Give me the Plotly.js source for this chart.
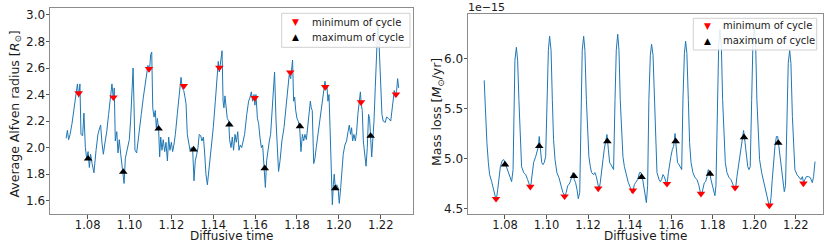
<!DOCTYPE html>
<html>
<head>
<meta charset="utf-8">
<script src="https://cdn.plot.ly/plotly-3.0.1.min.js"></script>
<style>html,body{margin:0;padding:0;background:#fff;}#chart{width:830px;height:244px;}</style>
</head>
<body>
<div id="chart"></div>
<script>
// ---- Left panel: average Alfven radius ----
const timeA = [1.0697,1.0703,1.0709,1.0716,1.0725,1.0735,1.0744,1.0751,1.0757,1.0763,1.0768,1.0776,1.0782,1.0789,1.0795,1.0802,1.0808,1.0814,1.0821,1.0830,1.0840,1.0849,1.0856,1.0862,1.0868,1.0875,1.0881,1.0891,1.0900,1.0910,1.0916,1.0923,1.0927,1.0932,1.0939,1.0945,1.0951,1.0958,1.0964,1.0970,1.0974,1.0980,1.0986,1.0993,1.0999,1.1005,1.1012,1.1017,1.1021,1.1026,1.1034,1.1040,1.1047,1.1056,1.1066,1.1075,1.1082,1.1088,1.1095,1.1101,1.1106,1.1111,1.1117,1.1123,1.1128,1.1133,1.1139,1.1144,1.1149,1.1155,1.1161,1.1168,1.1174,1.1181,1.1187,1.1193,1.1200,1.1206,1.1212,1.1219,1.1228,1.1238,1.1246,1.1252,1.1259,1.1265,1.1270,1.1276,1.1283,1.1289,1.1295,1.1302,1.1308,1.1314,1.1321,1.1327,1.1333,1.1340,1.1346,1.1353,1.1359,1.1365,1.1372,1.1381,1.1391,1.1400,1.1410,1.1418,1.1424,1.1429,1.1435,1.1442,1.1447,1.1451,1.1456,1.1461,1.1467,1.1474,1.1478,1.1485,1.1491,1.1497,1.1504,1.1510,1.1517,1.1523,1.1529,1.1536,1.1542,1.1550,1.1560,1.1569,1.1576,1.1582,1.1588,1.1595,1.1599,1.1604,1.1611,1.1617,1.1623,1.1630,1.1636,1.1642,1.1649,1.1655,1.1661,1.1668,1.1674,1.1681,1.1687,1.1693,1.1700,1.1706,1.1712,1.1719,1.1728,1.1738,1.1747,1.1757,1.1763,1.1770,1.1775,1.1779,1.1784,1.1789,1.1794,1.1800,1.1806,1.1813,1.1819,1.1826,1.1832,1.1838,1.1845,1.1851,1.1857,1.1864,1.1868,1.1873,1.1880,1.1886,1.1892,1.1900,1.1910,1.1919,1.1927,1.1934,1.1939,1.1943,1.1948,1.1953,1.1958,1.1964,1.1969,1.1974,1.1978,1.1983,1.1990,1.1996,1.2002,1.2009,1.2015,1.2021,1.2029,1.2037,1.2044,1.2050,1.2056,1.2061,1.2066,1.2072,1.2079,1.2085,1.2091,1.2098,1.2103,1.2107,1.2112,1.2117,1.2123,1.2130,1.2136,1.2142,1.2147,1.2152,1.2157,1.2162,1.2168,1.2174,1.2181,1.2187,1.2193,1.2200,1.2206,1.2212,1.2222,1.2228,1.2238,1.2248,1.2254,1.2260,1.2265,1.2270,1.2276,1.2281,1.2286];
const alfvenRadius = [2.07,2.13,2.06,2.10,2.18,2.30,2.38,2.48,2.38,2.48,2.10,2.09,2.26,2.00,1.92,1.97,1.85,1.95,1.88,1.81,1.98,2.10,2.14,2.17,2.04,1.95,2.02,2.12,2.25,2.42,2.48,2.36,2.45,2.05,2.12,1.96,2.06,1.95,1.86,1.78,1.73,1.92,1.97,2.02,2.06,2.20,2.45,2.60,2.35,1.98,1.96,2.03,2.12,2.25,2.38,2.48,2.55,2.62,2.57,2.70,2.72,2.30,2.23,2.28,2.15,2.22,2.14,1.93,2.08,1.98,2.06,1.97,2.04,1.90,2.08,1.98,2.04,1.97,2.02,2.10,2.25,2.42,2.53,2.45,2.43,2.38,2.33,2.10,2.04,1.98,2.00,1.97,1.75,1.90,1.95,2.00,2.10,2.09,2.05,2.08,1.96,1.80,1.72,1.85,2.00,2.15,2.35,2.55,2.65,2.57,2.65,2.73,2.35,2.30,2.39,2.28,2.22,2.20,2.06,2.00,2.08,1.98,2.10,2.04,2.12,1.98,2.02,2.00,2.04,2.10,2.25,2.35,2.38,2.42,2.35,2.40,2.32,2.40,2.22,2.18,2.08,2.00,2.02,1.85,1.70,1.90,1.98,2.05,2.10,2.25,2.45,2.57,2.20,1.95,1.82,1.90,2.05,2.15,2.30,2.42,2.55,2.52,2.60,2.66,2.35,2.38,2.28,2.22,2.20,2.15,1.97,2.10,2.05,2.10,2.06,2.15,2.25,2.35,2.30,2.28,1.88,1.92,2.00,2.10,2.22,2.32,2.45,2.50,2.44,2.47,2.35,2.40,2.15,1.80,1.57,1.72,1.80,1.70,1.72,1.70,1.58,1.70,1.85,1.95,2.02,2.05,2.12,2.17,2.10,2.15,2.05,2.10,2.05,2.12,2.25,2.38,2.42,2.33,2.28,2.05,1.95,1.86,2.00,2.25,2.22,2.10,1.93,2.05,2.20,2.45,2.75,2.96,2.75,2.40,2.25,2.20,2.19,2.23,2.22,2.20,2.28,2.35,2.43,2.38,2.43,2.52,2.45];
const minTimeA = [1.0757,1.0923,1.1093,1.1259,1.1429,1.1598,1.1768,1.1935,1.2106,1.2273];
const minRadius = [2.410,2.379,2.593,2.465,2.603,2.374,2.568,2.457,2.342,2.402];
const maxTimeA = [1.0802,1.0970,1.1139,1.1306,1.1477,1.1646,1.1814,1.1983,1.2152];
const maxRadius = [1.917,1.817,2.143,1.985,2.173,1.844,2.161,1.693,2.088];

// ---- Right panel: mass loss (units of 1e-15 Msun/yr) ----
const timeB = [1.0700,1.0707,1.0713,1.0720,1.0726,1.0736,1.0745,1.0752,1.0758,1.0765,1.0771,1.0778,1.0787,1.0794,1.0800,1.0806,1.0813,1.0819,1.0826,1.0832,1.0839,1.0843,1.0848,1.0855,1.0861,1.0867,1.0874,1.0880,1.0890,1.0900,1.0909,1.0919,1.0925,1.0932,1.0938,1.0948,1.0954,1.0961,1.0965,1.0970,1.0977,1.0983,1.0989,1.0996,1.1002,1.1009,1.1015,1.1022,1.1028,1.1034,1.1041,1.1050,1.1060,1.1070,1.1079,1.1089,1.1095,1.1102,1.1108,1.1115,1.1121,1.1127,1.1134,1.1140,1.1147,1.1153,1.1160,1.1166,1.1172,1.1179,1.1185,1.1192,1.1198,1.1204,1.1211,1.1217,1.1227,1.1233,1.1240,1.1246,1.1253,1.1259,1.1265,1.1272,1.1278,1.1285,1.1291,1.1298,1.1304,1.1310,1.1317,1.1323,1.1330,1.1336,1.1343,1.1349,1.1355,1.1362,1.1368,1.1375,1.1381,1.1387,1.1394,1.1404,1.1410,1.1416,1.1423,1.1429,1.1439,1.1448,1.1455,1.1461,1.1468,1.1474,1.1481,1.1487,1.1493,1.1500,1.1506,1.1513,1.1519,1.1526,1.1532,1.1542,1.1548,1.1554,1.1561,1.1567,1.1574,1.1580,1.1587,1.1593,1.1599,1.1606,1.1612,1.1619,1.1625,1.1631,1.1638,1.1644,1.1651,1.1657,1.1664,1.1670,1.1676,1.1683,1.1689,1.1696,1.1705,1.1715,1.1725,1.1734,1.1741,1.1747,1.1753,1.1760,1.1766,1.1773,1.1779,1.1786,1.1792,1.1798,1.1805,1.1811,1.1816,1.1822,1.1829,1.1835,1.1842,1.1848,1.1855,1.1861,1.1869,1.1879,1.1888,1.1898,1.1904,1.1911,1.1917,1.1924,1.1930,1.1936,1.1943,1.1949,1.1956,1.1962,1.1969,1.1975,1.1981,1.1988,1.1994,1.2001,1.2007,1.2013,1.2020,1.2026,1.2036,1.2046,1.2055,1.2065,1.2071,1.2076,1.2081,1.2087,1.2094,1.2100,1.2107,1.2113,1.2119,1.2126,1.2132,1.2139,1.2145,1.2151,1.2158,1.2164,1.2171,1.2177,1.2184,1.2190,1.2196,1.2206,1.2216,1.2225,1.2232,1.2238,1.2244,1.2251,1.2261,1.2270,1.2280,1.2286,1.2293];
const massLoss = [5.78,5.42,5.16,4.96,4.84,4.77,4.69,4.63,4.58,4.69,4.82,4.92,4.98,4.99,4.96,4.92,4.89,4.84,4.79,4.77,4.89,5.59,5.98,6.11,5.98,5.59,5.16,4.92,4.86,4.84,4.79,4.73,4.74,4.86,4.96,5.02,5.06,5.12,5.22,5.09,4.96,4.94,4.96,5.02,5.59,6.08,6.22,6.08,5.59,5.19,4.99,4.86,4.81,4.74,4.66,4.63,4.66,4.73,4.74,4.77,4.82,4.86,4.79,4.76,4.69,4.60,4.66,5.59,6.08,6.22,6.08,5.59,5.19,5.02,4.92,4.86,4.84,4.86,4.82,4.74,4.69,4.76,4.89,4.99,5.09,5.19,5.24,5.09,4.96,4.94,4.91,4.89,5.59,6.08,6.24,6.08,5.59,5.19,5.02,4.92,4.87,4.82,4.76,4.71,4.66,4.67,4.74,4.76,4.79,4.86,4.86,4.82,4.73,4.63,4.56,4.73,5.59,6.03,6.14,6.03,5.59,5.09,4.86,4.79,4.77,4.79,4.84,4.82,4.76,4.74,4.86,4.96,5.02,5.09,5.12,5.25,5.06,4.96,4.94,4.91,4.89,5.59,6.05,6.17,6.05,5.59,5.16,4.96,4.86,4.81,4.79,4.73,4.66,4.64,4.69,4.76,4.77,4.82,4.89,4.86,4.79,4.73,4.66,4.63,4.73,5.59,6.12,6.29,6.12,5.59,5.16,4.96,4.86,4.81,4.79,4.74,4.69,4.71,4.82,4.92,5.02,5.09,5.16,5.28,5.16,5.02,4.92,4.89,4.92,5.59,6.15,6.32,6.15,5.59,5.19,4.99,4.86,4.77,4.69,4.61,4.54,4.53,4.61,4.79,4.99,5.12,5.22,5.22,5.12,4.99,4.89,4.77,4.67,4.73,5.42,5.95,6.08,5.95,5.42,5.06,4.89,4.84,4.81,4.79,4.82,4.76,4.79,4.82,4.82,4.81,4.76,4.82,4.97];
const minTimeB = [1.0757,1.0922,1.1087,1.1249,1.1416,1.1580,1.1744,1.1908,1.2073,1.2237];
const minMass = [4.599,4.719,4.623,4.702,4.682,4.748,4.649,4.709,4.533,4.752];
const maxTimeB = [1.0800,1.0965,1.1132,1.1293,1.1458,1.1622,1.1787,1.1951,1.2116];
const maxMass = [4.940,5.123,4.825,5.172,4.815,5.172,4.848,5.212,5.156];

const xTickVals = [1.08,1.10,1.12,1.14,1.16,1.18,1.20,1.22];
const yTickValsA = [1.6,1.8,2.0,2.2,2.4,2.6,2.8,3.0];
const yTickValsB = [4.5,5.0,5.5,6.0];
const legendMin = 'minimum of cycle';
const legendMax = 'maximum of cycle';
const xTitle = 'Diffusive time';
const yTitleA = 'Average Alfven radius [<i>R</i><sub>⊙</sub>]';
const yTitleB = 'Mass loss [<i>M</i><sub>⊙</sub>/yr]';
const offsetText = '1e\u221215';

const FONT = 'DejaVu Sans, Arial, sans-serif';
const BLUE = '#1f77b4';
const TXT = '#1a1a1a';
const W = 830, H = 244;
const px = v => v / W;
const py = v => 1 - v / H;

const traces = [
  {x: timeA, y: alfvenRadius, type: 'scatter', mode: 'lines', line: {color: BLUE, width: 1}, showlegend: false, xaxis: 'x', yaxis: 'y'},
  {x: minTimeA, y: minRadius, type: 'scatter', mode: 'markers', name: legendMin, marker: {symbol: 'triangle-down', color: 'red', size: 7.5}, showlegend: false, xaxis: 'x', yaxis: 'y'},
  {x: maxTimeA, y: maxRadius, type: 'scatter', mode: 'markers', name: legendMax, marker: {symbol: 'triangle-up', color: 'black', size: 7.5}, showlegend: false, xaxis: 'x', yaxis: 'y'},
  {x: timeB, y: massLoss, type: 'scatter', mode: 'lines', line: {color: BLUE, width: 1}, showlegend: false, xaxis: 'x2', yaxis: 'y2'},
  {x: minTimeB, y: minMass, type: 'scatter', mode: 'markers', name: legendMin, marker: {symbol: 'triangle-down', color: 'red', size: 7.5}, showlegend: false, xaxis: 'x2', yaxis: 'y2'},
  {x: maxTimeB, y: maxMass, type: 'scatter', mode: 'markers', name: legendMax, marker: {symbol: 'triangle-up', color: 'black', size: 7.5}, showlegend: false, xaxis: 'x2', yaxis: 'y2'}
];

const axisCommon = {
  showline: true, mirror: true, linecolor: '#8c8c8c', linewidth: 1,
  ticks: 'outside', ticklen: 3.5, tickwidth: 1, tickcolor: '#555',
  showgrid: false, zeroline: false, ticklabelstandoff: -2,
  tickfont: {family: FONT, size: 12, color: TXT}
};

// legend boxes (drawn as shapes + text so the row spacing matches)
function legendBox(x0, y0, x1, y1) {
  return {type: 'rect', xref: 'paper', yref: 'paper', x0: px(x0), x1: px(x1), y0: py(y1), y1: py(y0),
          fillcolor: 'rgba(255,255,255,0.85)', line: {color: '#d0d0d0', width: 1}, layer: 'above'};
}
function legendRows(xm, xt, y1, y2) {
  return [
    {text: '▼', x: px(xm), y: py(y1), xanchor: 'center', yanchor: 'middle', font: {family: FONT, size: 9, color: 'red'}},
    {text: legendMin, x: px(xt), y: py(y1), xanchor: 'left', yanchor: 'middle', font: {family: FONT, size: 10, color: TXT}},
    {text: '▲', x: px(xm), y: py(y2), xanchor: 'center', yanchor: 'middle', font: {family: FONT, size: 9, color: 'black'}},
    {text: legendMax, x: px(xt), y: py(y2), xanchor: 'left', yanchor: 'middle', font: {family: FONT, size: 10, color: TXT}}
  ];
}

const annots = [].concat(
  legendRows(295.7, 311, 22.3, 37.3),
  legendRows(707, 722, 25.7, 40.7),
  [
    {text: offsetText, x: px(467), y: py(7.5), xanchor: 'left', yanchor: 'middle', font: {family: FONT, size: 11, color: TXT}},
    {text: xTitle, x: px(231.5), y: py(244), xanchor: 'center', yanchor: 'bottom', font: {family: FONT, size: 12, color: TXT}},
    {text: xTitle, x: px(645), y: py(244), xanchor: 'center', yanchor: 'bottom', font: {family: FONT, size: 12, color: TXT}},
    {text: yTitleA, x: px(15.5), y: py(114), textangle: -90, xanchor: 'center', yanchor: 'middle', font: {family: FONT, size: 12.5, color: TXT}},
    {text: yTitleB, x: px(437), y: py(112), textangle: -90, xanchor: 'center', yanchor: 'middle', font: {family: FONT, size: 12.5, color: TXT}}
  ]
).map(a => Object.assign({xref: 'paper', yref: 'paper', showarrow: false, borderpad: 0}, a));

const layout = {
  width: W, height: H,
  margin: {l: 0, r: 0, t: 0, b: 0},
  paper_bgcolor: '#fff', plot_bgcolor: '#fff',
  font: {family: FONT, color: TXT},
  showlegend: false,
  xaxis: Object.assign({}, axisCommon, {
    domain: [px(50), px(412.5)], range: [1.062, 1.2352], anchor: 'y',
    tickvals: xTickVals, tickformat: '.2f', ticklabelstandoff: -4,
    tickfont: {family: FONT, size: 11.5, color: TXT}
  }),
  yaxis: Object.assign({}, axisCommon, {
    domain: [py(214.3), py(8.3)], range: [1.4975, 3.050], anchor: 'x',
    tickvals: yTickValsA, tickformat: '.1f'
  }),
  xaxis2: Object.assign({}, axisCommon, {
    domain: [px(468), px(822.5)], range: [1.0622, 1.2329], anchor: 'y2',
    tickvals: xTickVals, tickformat: '.2f', ticklabelstandoff: -4,
    tickfont: {family: FONT, size: 11.5, color: TXT}
  }),
  yaxis2: Object.assign({}, axisCommon, {
    domain: [py(214.3), py(13.5)], range: [4.444, 6.447], anchor: 'x2',
    tickvals: yTickValsB, tickformat: '.1f'
  }),
  shapes: [legendBox(281.7, 13.3, 410, 47.3), legendBox(693.3, 18.3, 816.7, 50)],
  annotations: annots
};

Plotly.newPlot('chart', traces, layout, {staticPlot: true, displayModeBar: false});
</script>
</body>
</html>
